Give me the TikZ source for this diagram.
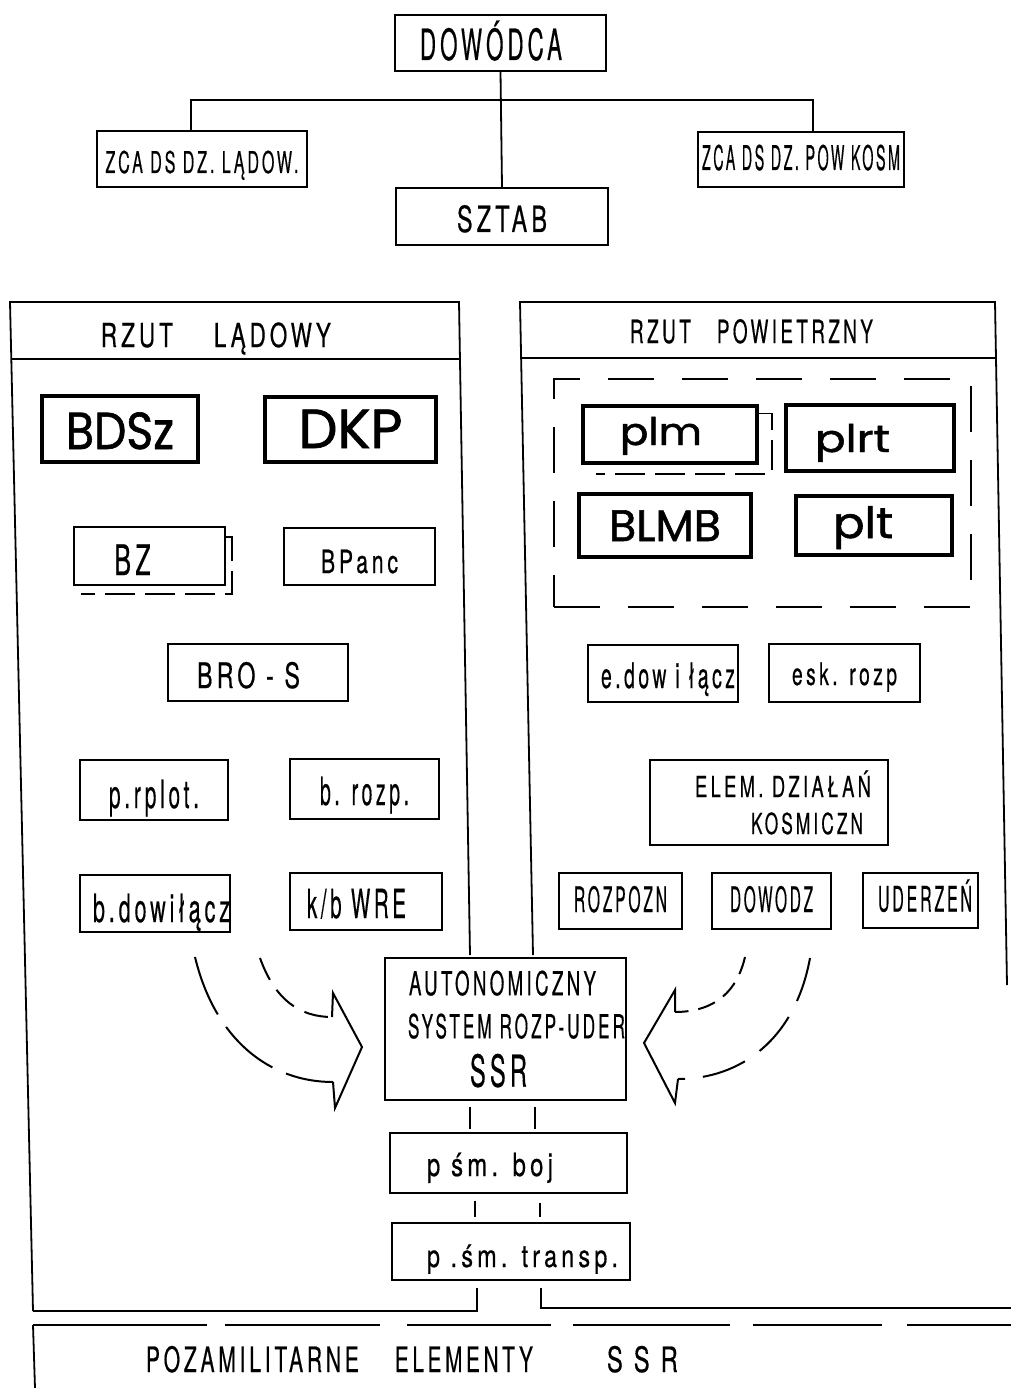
\documentclass[tikz,border=0pt]{standalone}
\usepackage{fontspec}
\usepackage{graphicx}
\newfontfamily\hand[LetterSpace=18,FakeBold=0.6]{TeX Gyre Heros}
\newfontfamily\round[FakeBold=1.2]{Poppins}
\usetikzlibrary{calc}
\newcommand{\tw}[2]{\resizebox{#1pt}{\height}{#2}}
\newcommand{\fsz}[1]{\fontsize{#1pt}{#1pt}\selectfont}
\begin{document}
\begin{tikzpicture}[x=1pt,y=-1pt,line width=1.8pt,
  box/.style={draw,rectangle,inner sep=0pt,line width=1.8pt},
  bbox/.style={box,line width=3.2pt},
  tb/.style={text height=#1,text depth=0pt},
  hw/.style={font={\hand\fsz{#1}}},
  rw/.style={font={\round\fsz{#1}}},
  lbl/.style={anchor=base west,inner sep=0pt},
  shadow/.style={dash pattern=on 30pt off 10pt},
  grpdash/.style={dash pattern=on 46pt off 28pt},
  bigarrow/.style={line width=2pt}]
\fill[white] (0,0) rectangle (1011,1388);
\useasboundingbox (0,0) rectangle (1011,1388);

% ---- top hierarchy
\node[box,minimum width=211pt,minimum height=56pt,tb=34pt,hw=43] (dow) at (500.5,43) {\tw{142}{DOWÓDCA}\hspace*{19pt}};
\node[box,minimum width=210pt,minimum height=56pt,tb=28pt,hw=30] (zcal) at (202,159) {\tw{193}{ZCA DS DZ. LĄDOW.}};
\node[box,minimum width=206pt,minimum height=55pt,tb=21pt,hw=34] (zcap) at (801,159.5) {\tw{198}{ZCA DS DZ. POW KOSM}};
\node[box,minimum width=212pt,minimum height=57pt,tb=31pt,hw=36] (sztab) at (502,216.5) {\tw{90}{SZTAB}};
\coordinate (jl) at (191,100);
\coordinate (jr) at (813,100);
\draw (dow.south) -- (sztab.north);
\draw (zcal.north -| jl) -- (jl) -- (jr) -- (zcap.north -| jr);

% ---- panels
\draw (33,1311) -- (10,302) -- (459,302) -- (470,955);
\draw (11,359) -- (460,359);
\draw (533,955) -- (520,302) -- (995,302) -- (1007,985);
\draw (521,358) -- (996,358);
\node[lbl,hw=33] (tl) at (100,347) {\tw{72}{RZUT}\hspace{41pt}\tw{117}{LĄDOWY}};
\node[lbl,hw=32] (tp) at (629,343) {\tw{61}{RZUT}\hspace{26pt}\tw{156}{POWIETRZNY}};

% ---- left panel boxes
\node[bbox,minimum width=156pt,minimum height=66pt,tb=40pt,rw=52] (bdsz) at (120,429) {\tw{108}{BDSz}};
\node[bbox,minimum width=171pt,minimum height=65pt,tb=37pt,rw=55] (dkp) at (350.5,429.5) {\tw{104}{DKP}};
\node[box,minimum width=151pt,minimum height=58pt,tb=38pt,hw=42] (bz) at (149.5,556) {\tw{36}{BZ}\hspace*{34pt}};
\draw[shadow] ($(bz.north east)+(0,11)$) -- ++(6,0) -- ($(bz.south east)+(6,8)$) -- ($(bz.south west)+(8,8)$);
\node[box,minimum width=151pt,minimum height=57pt,tb=33pt,hw=32] (bpanc) at (359.5,556.5) {\tw{77}{BPanc}};
\node[box,minimum width=180pt,minimum height=57pt,tb=31pt,hw=35] (bros) at (258,672.5) {\tw{103}{BRO - S}\hspace*{19pt}};
\node[box,minimum width=148pt,minimum height=60pt,tb=36pt,hw=39] (prplot) at (154,790) {\tw{90}{p.rplot.}};
\node[box,minimum width=149pt,minimum height=60pt,tb=32pt,hw=39] (brozp) at (364.5,789) {\tw{89}{b. rozp.}};
\node[box,minimum width=150pt,minimum height=57pt,tb=37pt,hw=39] (bdow) at (155,903.5) {\hspace*{13pt}\tw{137}{b.dowiłącz}};
\node[box,minimum width=152pt,minimum height=57pt,tb=33pt,hw=40] (kbwre) at (366,901.5) {\tw{99}{k/b WRE}\hspace*{19pt}};

% ---- right panel boxes
\node[draw,grpdash,line width=2pt,inner sep=0pt,minimum width=417pt,minimum height=228pt] (grp) at (762.5,493) {};
\node[bbox,minimum width=174pt,minimum height=57pt,tb=21pt,rw=38] (plm) at (670,434.5) {\tw{82}{plm}\hspace*{18pt}};
\draw[shadow] ($(plm.north east)+(0,9)$) -- ++(13,0) -- ($(plm.south east)+(13,9)$) -- ($(plm.south west)+(15,9)$);
\node[bbox,minimum width=168pt,minimum height=66pt,tb=28pt,rw=38] (plrt) at (870,438) {\tw{75}{plrt}\hspace*{35pt}};
\node[bbox,minimum width=172pt,minimum height=63pt,tb=31pt,rw=44] (blmb) at (665,525.5) {\tw{112}{BLMB}};
\node[bbox,minimum width=156pt,minimum height=59pt,tb=25pt,rw=43] (plt) at (874,525.5) {\tw{60}{plt}\hspace*{22pt}};
\node[box,minimum width=150pt,minimum height=57pt,tb=29pt,hw=35] (edow) at (663,673.5) {\hspace*{10pt}\tw{134}{e.dow i łącz}};
\node[box,minimum width=151pt,minimum height=58pt,tb=24pt,hw=31] (esk) at (844.5,673) {\tw{105}{esk. rozp}};
\node[box,minimum width=238pt,minimum height=85pt,align=left,hw=29] (elem) at (769,802.5) {\hspace*{28pt}\tw{176}{ELEM. DZIAŁAŃ}\\[8pt]\hspace*{84pt}\tw{112}{KOSMICZN}};
\node[box,minimum width=123pt,minimum height=56pt,tb=22pt,hw=35] (rozpozn) at (620.5,901) {\tw{93}{ROZPOZN}};
\node[box,minimum width=119pt,minimum height=56pt,tb=22pt,hw=35] (dowodz) at (771.5,901) {\tw{83}{DOWODZ}};
\node[box,minimum width=115pt,minimum height=55pt,tb=22pt,hw=35] (uderzen) at (920.5,900.5) {\hspace*{9pt}\tw{94}{UDERZEŃ}};

% ---- central column
\node[box,minimum width=241pt,minimum height=142pt,align=center,hw=33] (aut) at (505.5,1029)
  {\tw{187}{AUTONOMICZNY}\hspace*{6pt}\\[10pt]\hspace*{22pt}\tw{217}{SYSTEM ROZP-UDER}\\[14pt]{\fsz{44}\tw{57}{SSR}}\hspace*{14pt}};
\node[box,minimum width=237pt,minimum height=60pt,tb=26pt,hw=32] (boj) at (508.5,1163) {\tw{126}{p śm. boj}\hspace*{37pt}};
\node[box,minimum width=238pt,minimum height=57pt,tb=31pt,hw=31] (transp) at (511,1251.5) {\hspace*{23pt}\tw{191}{p .śm. transp.}};

\coordinate (ta) at (470,0);
\coordinate (tb) at (535,0);
\coordinate (tc) at (475,0);
\coordinate (td) at (540,0);
\coordinate (te) at (477,0);
\coordinate (tf) at (541,0);
\draw[shorten <=6pt,shorten >=3pt] (aut.south -| ta) -- (boj.north -| ta);
\draw[shorten <=6pt,shorten >=3pt] (aut.south -| tb) -- (boj.north -| tb);
\draw[shorten <=7pt,shorten >=5pt] (boj.south -| tc) -- (transp.north -| tc);
\draw[shorten <=9pt,shorten >=5pt] (boj.south -| td) -- (transp.north -| td);
\draw[shorten <=7pt] (transp.south -| te) |- (33,1311);
\draw[shorten <=7pt] (transp.south -| tf) |- (1011,1308);

% ---- big curved arrows
\draw[bigarrow,dash pattern=on 62pt off 15pt] (195,957) .. controls (215,1040) and (270,1082) .. (333,1082);
\draw[bigarrow,dash pattern=on 24pt off 12pt] (260,958) .. controls (275,1000) and (300,1017) .. (332,1017);
\draw[bigarrow] (332,1017) -- (333,993) -- (362,1047) -- (335,1108) -- (333,1082);
\draw[bigarrow,dash pattern=on 45pt off 18pt] (810,958) .. controls (795,1040) and (740,1079) .. (678,1079);
\draw[bigarrow,dash pattern=on 18pt off 10pt] (745,957) .. controls (735,1000) and (705,1012) .. (675,1012);
\draw[bigarrow] (675,1012) -- (675,990) -- (644,1043) -- (675,1103) -- (678,1079);

% ---- bottom band
\draw[dash pattern=on 174pt off 18pt on 155pt off 27pt on 144pt off 22pt on 157pt off 23pt on 129pt off 25pt on 200pt off 10pt] (33,1325) -- (1011,1325);
\draw (33,1325) -- (35,1388);
\node[lbl,hw=35] (pz) at (145,1372) {\tw{213}{POZAMILITARNE}\hspace{36pt}\tw{138}{ELEMENTY}\hspace{74pt}\tw{71}{S S R}};
\end{tikzpicture}
\end{document}
